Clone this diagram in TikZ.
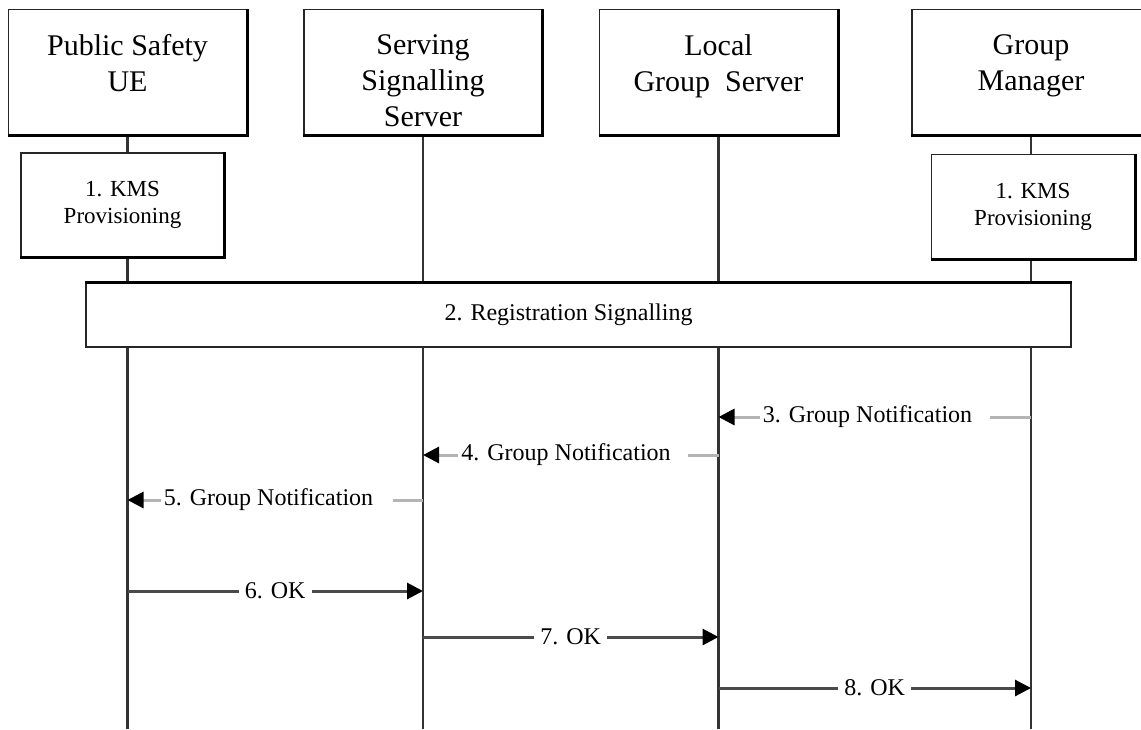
\documentclass[tikz,border=0pt]{standalone}
\usepackage{fontspec}
\setmainfont{Liberation Serif}
\usepackage{tikz}
\usetikzlibrary{arrows.meta, positioning, calc}
\definecolor{LifeGray}{HTML}{333333}
\definecolor{NotifyGray}{HTML}{B4B4B4}
\definecolor{OkGray}{HTML}{4A4A4A}
\tikzset{
    entitybox/.style={rectangle, draw=black!85, line width=0.6pt, fill=white,
                      minimum width=119pt, minimum height=62.75pt, inner sep=0pt},
    entitytext/.style={anchor=north, align=center, inner sep=0pt,
                       font=\fontsize{15}{18}\selectfont},
    kmsbox/.style={rectangle, draw=black!85, line width=0.6pt, fill=white,
                   minimum width=101.5pt, minimum height=52pt, align=center,
                   font=\fontsize{11.5}{13.5}\selectfont},
    regbox/.style={rectangle, draw=black!85, line width=0.6pt, fill=white,
                   minimum width=492.5pt, minimum height=32pt,
                   font=\fontsize{12}{14}\selectfont},
    lifeline/.style={draw=LifeGray, line width=1.2pt},
    notify/.style={draw=NotifyGray, line width=1.5pt,
                   -{Triangle[length=8pt, width=8pt, color=black]}},
    okmsg/.style={draw=OkGray, line width=1.5pt,
                  -{Triangle[length=8pt, width=8pt, color=black]}},
    msglabel/.style={fill=white, inner xsep=1.5pt, inner ysep=1pt,
                     font=\fontsize{12}{14}\selectfont},
}

\begin{document}
\begin{tikzpicture}[x=0.5pt, y=-0.5pt]
    \useasboundingbox (0,0) rectangle (1141,729);

    % Entities
    \node[entitybox] (ue)  at (127.5,72.25) {};
    \node[entitybox] (sss) at (423,72.25) {};
    \node[entitybox] (lgs) at (718.5,72.25) {};
    \node[entitybox] (gm)  at (1031,72.25) {};
    \node[entitytext] (uetxt)  at ([yshift=-12.5pt]ue.north)  {Public Safety\\UE};
    \node[entitytext] (ssstxt) at ([yshift=-12.5pt]sss.north) {Serving\\Signalling\\Server};
    \node[entitytext] (lgstxt) at ([yshift=-12.5pt]lgs.north) {Local\\Group\ \ Server};
    \node[entitytext] (gmtxt)  at ([yshift=-12.5pt]gm.north)  {Group\\Manager};

    % Lifelines
    \foreach \n in {ue,sss,lgs,gm}
        \draw[lifeline] (\n.south) -- (\n.south |- 0,729);

    % KMS provisioning and registration
    \node[kmsbox] (kmsue) at (122.5,205) {1. KMS\\Provisioning};
    \node[kmsbox] (kmsgm) at (1033,206.5) {1. KMS\\Provisioning};
    \node[regbox] (reg) at (578.5,315) {2. Registration Signalling\kern10pt};

    % heavier bottom and right edges
    \foreach \n in {ue,sss,lgs,gm,kmsue,kmsgm}
        \draw[line width=1.4pt] (\n.south west) -- (\n.south east) -- (\n.north east);
    \draw[line width=1.2pt] (reg.north west) -- (reg.north east);

    % Message ends
    \coordinate (n3a) at (gm.south |- 0,417);
    \coordinate (n3b) at (lgs.south |- 0,417);
    \coordinate (n4a) at (lgs.south |- 0,455);
    \coordinate (n4b) at (sss.south |- 0,455);
    \coordinate (n5a) at (sss.south |- 0,500);
    \coordinate (n5b) at (ue.south |- 0,500);
    \coordinate (n6a) at (ue.south |- 0,591);
    \coordinate (n6b) at (sss.south |- 0,591);
    \coordinate (n7a) at (sss.south |- 0,637);
    \coordinate (n7b) at (lgs.south |- 0,637);
    \coordinate (n8a) at (lgs.south |- 0,688);
    \coordinate (n8b) at (gm.south |- 0,688);

    % Group notifications
    \draw[notify] (n3a) -- (n3b);
    \node[msglabel, anchor=west] (l3) at ([xshift=20.5pt]n3b) {3. Group Notification\kern7.5pt};
    \draw[notify] (n4a) -- (n4b);
    \node[msglabel, anchor=west] (l4) at ([xshift=17.5pt]n4b) {4. Group Notification\kern7pt};
    \draw[notify] (n5a) -- (n5b);
    \node[msglabel, anchor=west] (l5) at ([xshift=16.5pt]n5b) {5. Group Notification\kern8.5pt};

    % Acknowledgements
    \draw[okmsg] (n6a) -- (n6b);
    \node[msglabel, inner xsep=3pt] (l6) at ($(n6a)!0.5!(n6b)$) {6. OK};
    \draw[okmsg] (n7a) -- (n7b);
    \node[msglabel, inner xsep=3pt] (l7) at ($(n7a)!0.5!(n7b)$) {7. OK};
    \draw[okmsg] (n8a) -- (n8b);
    \node[msglabel, inner xsep=3pt] (l8) at ($(n8a)!0.5!(n8b)$) {8. OK};
\end{tikzpicture}
\end{document}
